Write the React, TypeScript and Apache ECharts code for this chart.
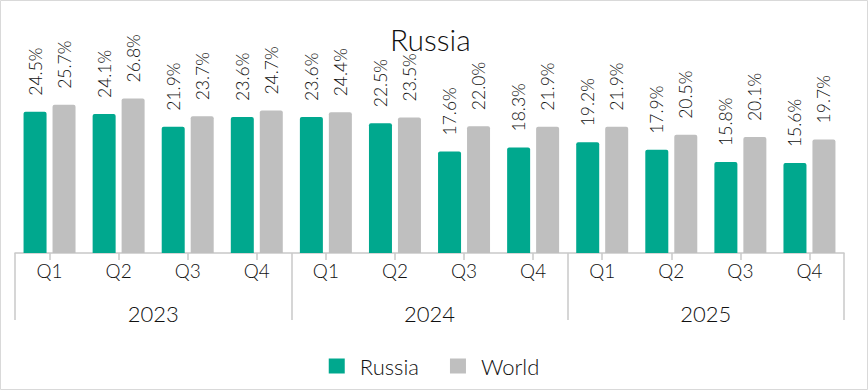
import React, { useEffect, useRef } from "react";
import * as echarts from "echarts";

const quarters = ["Q1", "Q2", "Q3", "Q4", "Q1", "Q2", "Q3", "Q4", "Q1", "Q2", "Q3", "Q4"];
const years = ["2023", "2024", "2025"];
const russia = [24.5, 24.1, 21.9, 23.6, 23.6, 22.5, 17.6, 18.3, 19.2, 17.9, 15.8, 15.6];
const world = [25.7, 26.8, 23.7, 24.7, 24.4, 23.5, 22.0, 21.9, 21.9, 20.5, 20.1, 19.7];
const russiaLabels = ["24.5%", "24.1%", "21.9%", "23.6%", "23.6%", "22.5%", "17.6%", "18.3%", "19.2%", "17.9%", "15.8%", "15.6%"];
const worldLabels = ["25.7%", "26.8%", "23.7%", "24.7%", "24.4%", "23.5%", "22.0%", "21.9%", "21.9%", "20.5%", "20.1%", "19.7%"];

const FONT = "Lato";
const W = 300;
const TXT = "#111";

export default function App() {
  const ref = useRef<HTMLDivElement>(null);
  useEffect(() => {
    document.body.style.margin = "0";
    const chart = echarts.init(ref.current!, null, { renderer: "svg" });
    const labelStyle = (arr: string[]) => ({
      show: true,
      position: "top" as const,
      rotate: 90,
      align: "left" as const,
      verticalAlign: "middle" as const,
      distance: 16,
      fontFamily: FONT,
      fontWeight: W,
      fontSize: 17.5,
      color: TXT,
      formatter: (p: any) => arr[p.dataIndex],
    });
    chart.setOption({
      animation: false,
      backgroundColor: "#fff",
      title: {
        text: "Russia",
        left: 385,
        top: 19,
        textStyle: { fontFamily: FONT, fontSize: 30, fontWeight: W, color: TXT },
      },
      graphic: [
        {
          type: "rect",
          shape: { x: 0.5, y: 0.5, width: 867, height: 389 },
          style: { fill: "none", stroke: "#d9d9d9", lineWidth: 1 },
          silent: true,
        },
      ],
      legend: {
        top: 350,
        left: "center",
        icon: "rect",
        itemWidth: 16,
        itemHeight: 15,
        itemGap: 31,
        textStyle: { fontFamily: FONT, fontWeight: W, fontSize: 22, color: TXT, padding: [0, 0, 0, 10] },
        data: ["Russia", "World"],
      },
      grid: { left: 15, right: 24, top: 80, bottom: 137, containLabel: false },
      xAxis: [
        {
          type: "category",
          data: quarters,
          position: "bottom",
          axisLine: { show: true, lineStyle: { color: "#c8c8c8", width: 1.5 } },
          axisTick: { show: true, alignWithLabel: true, length: 7, lineStyle: { color: "#c8c8c8", width: 1.5 } },
          axisLabel: { fontFamily: FONT, fontWeight: W, fontSize: 19, color: TXT, margin: 8 },
        },
        {
          type: "category",
          data: years,
          position: "bottom",
          axisLine: { show: false },
          axisTick: { show: true, length: 67, lineStyle: { color: "#c8c8c8", width: 1.5 } },
          axisLabel: { fontFamily: FONT, fontWeight: W, fontSize: 22, color: TXT, margin: 49 },
        },
      ],
      yAxis: { type: "value", min: 0, max: 30, show: false, splitLine: { show: false } },
      series: [
        {
          name: "Russia",
          type: "bar",
          data: russia,
          barWidth: 23,
          barGap: "26%",
          itemStyle: { color: "#00A88E", borderRadius: [2, 2, 0, 0] },
          label: labelStyle(russiaLabels),
        },
        {
          name: "World",
          type: "bar",
          data: world,
          barWidth: 23,
          itemStyle: { color: "#BFBFBF", borderRadius: [2, 2, 0, 0] },
          label: labelStyle(worldLabels),
        },
      ],
    });
    return () => chart.dispose();
  }, []);
  return <div ref={ref} style={{ width: 868, height: 390 }} />;
}
